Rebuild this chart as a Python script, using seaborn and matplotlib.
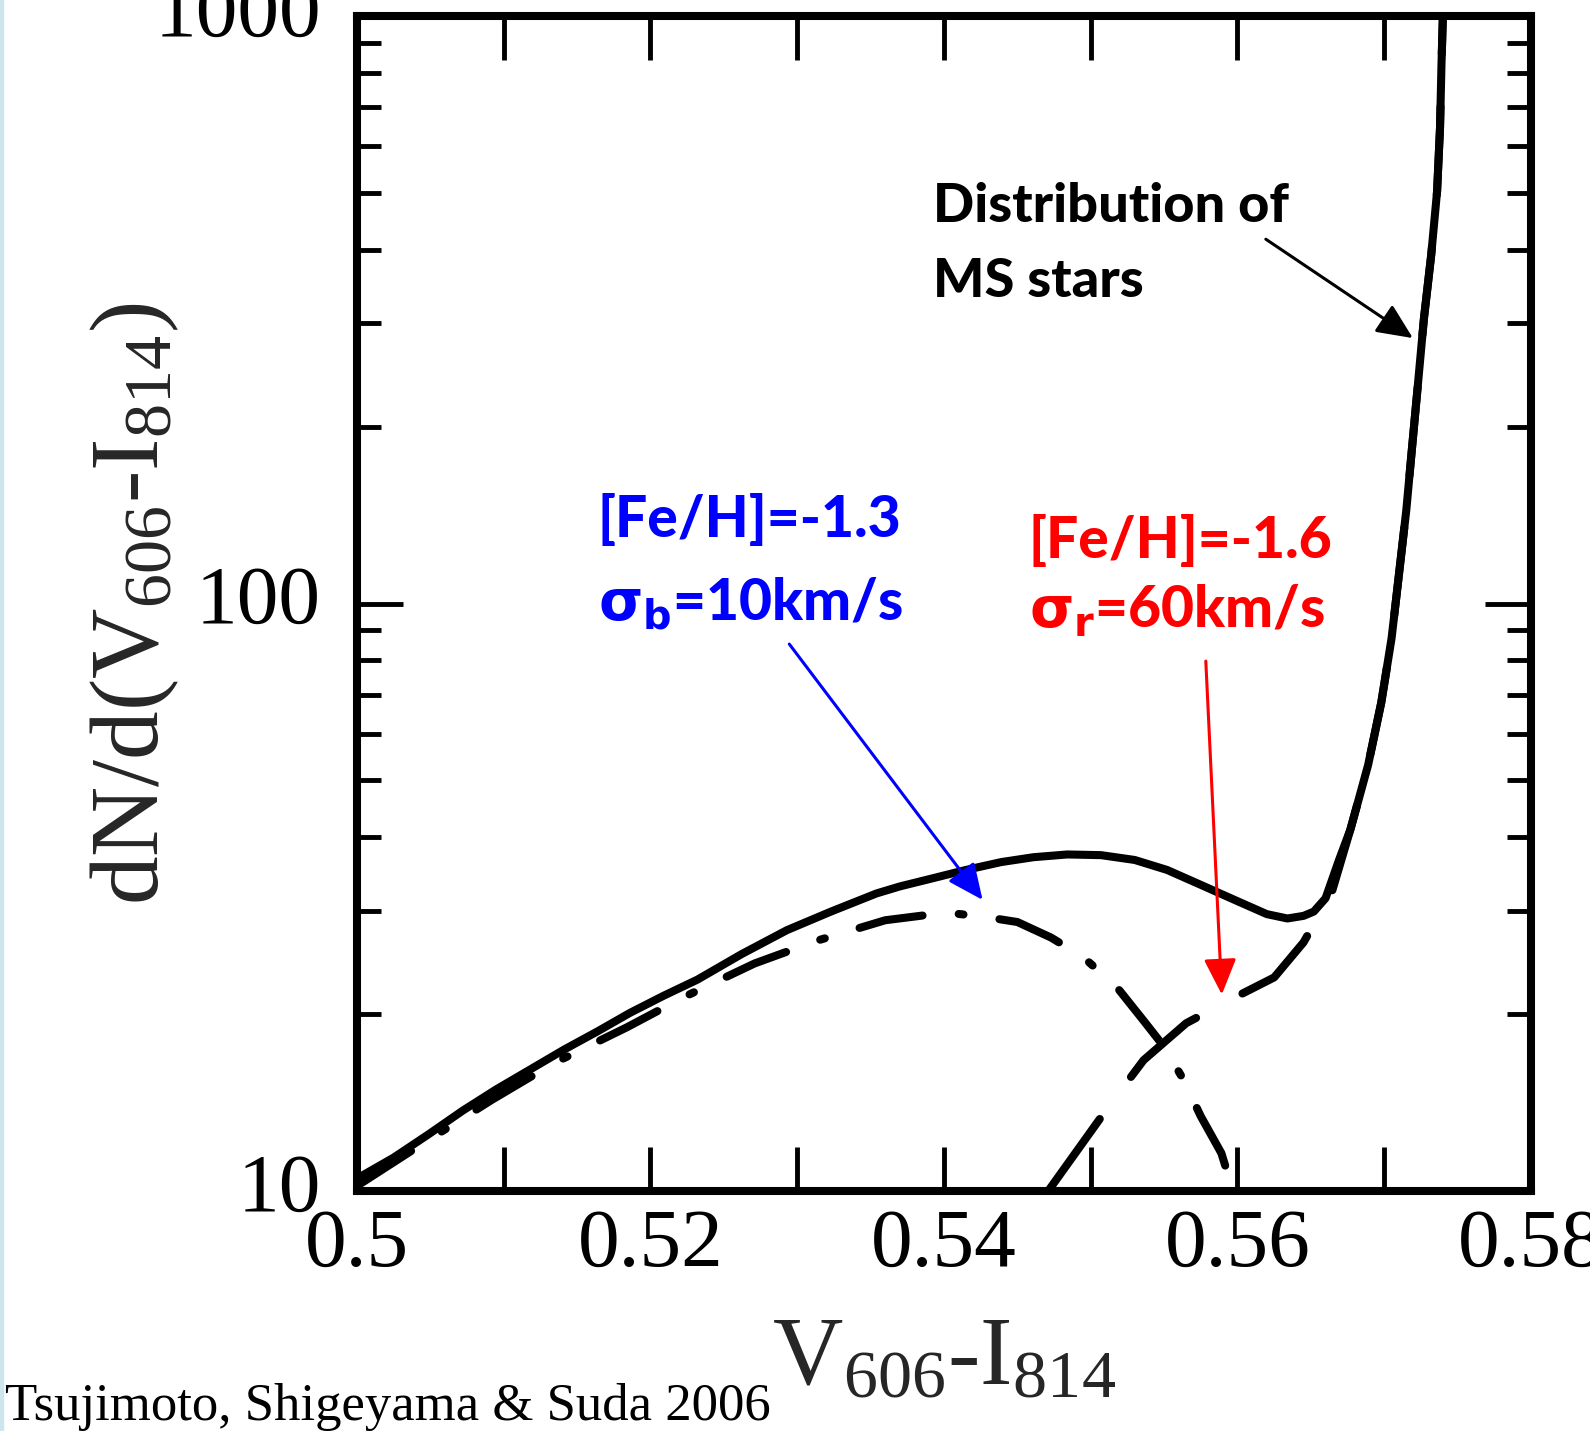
import matplotlib
matplotlib.use("Agg")
import matplotlib.pyplot as plt
import matplotlib.transforms as mtransforms
import seaborn as sns
import pandas as pd
from matplotlib.patches import Rectangle
from matplotlib.ticker import LogLocator, NullFormatter

# total distribution (solid)
total_color = [0.5000, 0.5025, 0.5049, 0.5072, 0.5095, 0.5118, 0.5141, 0.5164, 0.5186,
               0.5209, 0.5232, 0.5262, 0.5293, 0.5323, 0.5354, 0.5370,
               0.5393, 0.5415, 0.5439, 0.5461, 0.5484, 0.5507, 0.5530, 0.5552, 0.5575,
               0.5598, 0.5620, 0.5634, 0.5645, 0.5652, 0.5660, 0.5669, 0.5677, 0.5689,
               0.5698, 0.5705, 0.5710, 0.5715, 0.5719, 0.5723, 0.5727, 0.5732, 0.5736,
               0.5738, 0.5739, 0.5740]
total_dndc = [10.5, 11.4, 12.5, 13.7, 14.9, 16.1, 17.4, 18.7, 20.1,
              21.5, 22.9, 25.3, 27.8, 29.9, 32.1, 33.0,
              34.1, 35.2, 36.3, 37.0, 37.4, 37.3, 36.6, 35.2, 33.2,
              31.3, 29.6, 29.1, 29.4, 29.9, 31.5, 36.5, 41.3, 53.1,
              67.9, 87.3, 112, 144, 185, 237, 305, 392, 503,
              645, 828, 1010]

# blue population, [Fe/H]=-1.3 (dash-dot)
blue_color = [0.5000, 0.5046, 0.5092, 0.5134, 0.5184, 0.5223, 0.5271, 0.5314, 0.5360,
              0.5393, 0.5406, 0.5427, 0.5450, 0.5473, 0.5495, 0.5518, 0.5536, 0.5550,
              0.5563, 0.5575, 0.5589, 0.5597]
blue_dndc = [10.2, 12.1, 14.3, 16.5, 19.0, 21.4, 24.4, 26.7, 28.9,
             29.6, 29.7, 29.3, 28.7, 27.0, 25.0, 22.2, 19.5, 17.6,
             15.5, 13.4, 11.6, 10.0]

# red population, [Fe/H]=-1.6 (dashed)
red_color = [0.5471, 0.5512, 0.5536, 0.5565, 0.5594, 0.5625, 0.5645, 0.5664, 0.5677,
             0.5689, 0.5698, 0.5705, 0.5710, 0.5715, 0.5719, 0.5723, 0.5727, 0.5732,
             0.5736, 0.5738, 0.5739, 0.5740]
red_dndc = [10.0, 13.9, 16.7, 19.3, 21.1, 23.1, 26.5, 32.1, 41.3,
            53.1, 67.9, 87.3, 112, 144, 185, 237, 305, 392,
            503, 645, 828, 1010]

x_ticks = [0.50, 0.52, 0.54, 0.56, 0.58]
x_tick_labels = ["0.5", "0.52", "0.54", "0.56", "0.58"]
x_minor = [0.51, 0.53, 0.55, 0.57]
y_ticks = [10, 100, 1000]
y_tick_labels = ["10", "100", "1000"]

# annotation arrows: (start, tip)
ms_arrow = [(0.56193, 417), (0.57195, 283)]
blue_arrow = [(0.52946, 85.3), (0.54263, 31.3)]
red_arrow = [(0.55784, 79.8), (0.55893, 21.6)]

sns.set_theme(style="ticks")
plt.rcParams["font.family"] = ["Liberation Serif", "DejaVu Serif"]
plt.rcParams["mathtext.fontset"] = "custom"
plt.rcParams["mathtext.rm"] = "Liberation Serif"
plt.rcParams["mathtext.it"] = "DejaVu Sans:bold"
plt.rcParams["mathtext.bf"] = "DejaVu Sans:bold"

fig = plt.figure(figsize=(15.9, 14.31), dpi=100)
ax = fig.add_axes([0.2245, 0.1677, 0.7384, 0.8211])
ax.set_yscale("log")

lw = 5.8
sns.lineplot(data=pd.DataFrame({"c": total_color, "n": total_dndc}), x="c", y="n",
             ax=ax, color="black", lw=lw, solid_capstyle="round",
             solid_joinstyle="round")
sns.lineplot(data=pd.DataFrame({"c": blue_color, "n": blue_dndc}), x="c", y="n",
             ax=ax, color="black", lw=lw, linestyle=(0, (8, 4.5, 0.6, 4.5)),
             dash_capstyle="round")
sns.lineplot(data=pd.DataFrame({"c": red_color, "n": red_dndc}), x="c", y="n",
             ax=ax, color="black", lw=lw, linestyle=(0, (11, 6.5)),
             dash_capstyle="round")

ax.set_xlim(0.5, 0.58)
ax.set_ylim(10, 1000)
ax.set_xticks(x_ticks)
ax.set_xticklabels(x_tick_labels)
ax.set_xticks(x_minor, minor=True)
ax.set_yticks(y_ticks)
ax.set_yticklabels(y_tick_labels)
ax.yaxis.set_minor_locator(LogLocator(base=10, subs=range(2, 10)))
ax.yaxis.set_minor_formatter(NullFormatter())

ax.tick_params(axis="both", which="both", direction="in", top=True, right=True,
               colors="black", width=3.5, labelsize=60)
ax.tick_params(axis="x", which="both", length=32, pad=12.5)
ax.tick_params(axis="y", which="major", length=33, pad=26)
ax.tick_params(axis="y", which="minor", length=17)
for s in ax.spines.values():
    s.set_linewidth(5.8)
    s.set_color("black")

up = mtransforms.ScaledTranslation(0, 9 / 100, fig.dpi_scale_trans)
for lab in ax.get_yticklabels():
    lab.set_transform(lab.get_transform() + up)

hy = "\u2010"
ax.set_xlabel(r"$\mathrm{V_{606}" + hy + r"I_{814}}$", fontsize=70)
ax.set_ylabel(r"$\mathrm{dN/d(V_{606}" + hy + r"I_{814})}$", fontsize=70)
ax.xaxis.set_label_coords(0.5, -0.107)
ax.yaxis.set_label_coords(-0.150, 0.5)

hand = ["Lato", "DejaVu Sans"]
ax.text(0.4906, 0.8247, "Distribution of", transform=ax.transAxes, family=hand,
        weight="black", fontsize=39, color="black", va="baseline")
ax.text(0.4906, 0.7609, "MS stars", transform=ax.transAxes, family=hand,
        weight="black", fontsize=39, color="black", va="baseline")
ax.text(0.2053, 0.5566, "[Fe/H]=-1.3", transform=ax.transAxes, family=hand,
        weight="black", fontsize=41, color="#0000ff", va="baseline")
ax.text(0.2053, 0.4860, r"$\sigma_b$=10km/s", transform=ax.transAxes, family=hand,
        weight="black", fontsize=41, color="#0000ff", va="baseline")
ax.text(0.5724, 0.5387, "[Fe/H]=-1.6", transform=ax.transAxes, family=hand,
        weight="black", fontsize=41, color="#ff0000", va="baseline")
ax.text(0.5724, 0.4791, r"$\sigma_r$=60km/s", transform=ax.transAxes, family=hand,
        weight="black", fontsize=41, color="#ff0000", va="baseline")

for arrow, col in [(ms_arrow, "black"), (blue_arrow, "#0000ff"), (red_arrow, "#ff0000")]:
    ax.annotate("", xy=arrow[1], xytext=arrow[0], xycoords="data",
                arrowprops=dict(arrowstyle="-|>,head_length=0.55,head_width=0.25",
                                color=col, lw=2.2, shrinkA=0, shrinkB=0,
                                mutation_scale=40))

fig.text(0.003, 0.0077, "Tsujimoto, Shigeyama & Suda 2006", fontsize=38,
         color="black", va="baseline", ha="left")
fig.patches.append(Rectangle((0, 0), 3 / 1590, 1, transform=fig.transFigure,
                             color="#cde5ec", zorder=0))

fig.savefig("out.png", dpi=100)
